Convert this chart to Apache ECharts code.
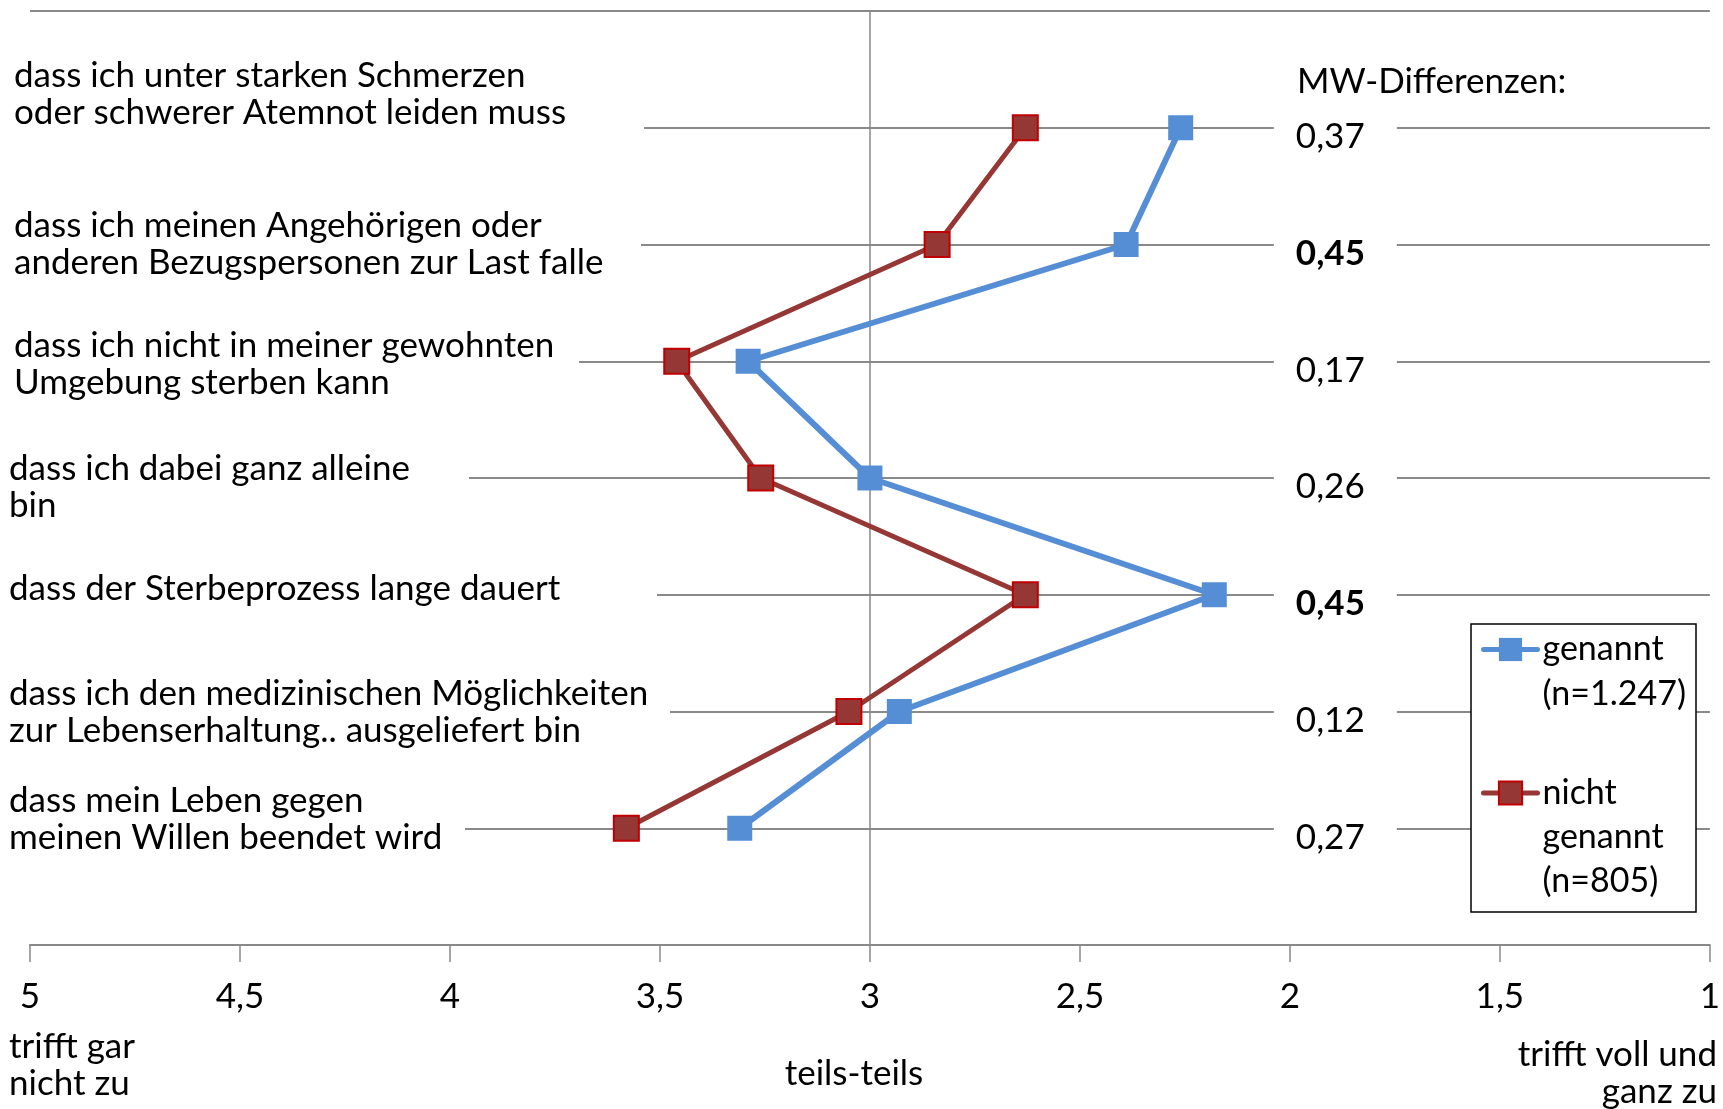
<!DOCTYPE html>
<html>
<head>
<meta charset="utf-8">
<script src="https://cdn.jsdelivr.net/npm/echarts@6/dist/echarts.min.js"></script>
<style>
  html, body { margin: 0; padding: 0; background: #fff; }
  #chart { width: 1723px; height: 1109px; }
</style>
</head>
<body>
<div id="chart"></div>
<script>
// Aussagen (von oben nach unten)
var categories = [
  'dass ich unter starken Schmerzen\noder schwerer Atemnot leiden muss',
  'dass ich meinen Angehörigen oder\nanderen Bezugspersonen zur Last falle',
  'dass ich nicht in meiner gewohnten\nUmgebung sterben kann',
  'dass ich dabei ganz alleine\nbin',
  'dass der Sterbeprozess lange dauert',
  'dass ich den medizinischen Möglichkeiten\nzur Lebenserhaltung.. ausgeliefert bin',
  'dass mein Leben gegen\nmeinen Willen beendet wird'
];
// Mittelwerte (1 = trifft voll und ganz zu, 5 = trifft gar nicht zu)
var genannt = [2.26, 2.39, 3.29, 3.00, 2.18, 2.93, 3.31];
var nichtGenannt = [2.63, 2.84, 3.46, 3.26, 2.63, 3.05, 3.58];
// MW-Differenzen
var differenzen = ['0,37', '0,45', '0,17', '0,26', '0,45', '0,12', '0,27'];
var diffBold = [false, true, false, false, true, false, false];

var FONT = 'Lato';
var FS = 35;
var LH = 37;

// Breite der weißen Textkästen (bis wo die Linie beginnt) und vertikaler Versatz
var boxWidth = [630, 627, 565, 460, 648, 661, 456];
var padLeft = [10, 10, 10, 5, 5, 5, 5];
var shift = [-34, 0, 3, 9, -6, 1, -9];

var rich = {};
for (var i = 0; i < categories.length; i++) {
  rich['t' + i] = { fontFamily: FONT, fontSize: FS, lineHeight: LH, height: LH, width: boxWidth[i], padding: [0, 0, 0, padLeft[i]], color: '#000' };
  rich['s' + i] = { fontSize: 1, lineHeight: Math.abs(shift[i]) * 2 || 1, height: Math.abs(shift[i]) * 2 || 1, width: boxWidth[i] };
}

function leftLabel(value) {
  var i = value - 1;
  if (i < 0 || i >= categories.length) return '';
  var lines = categories[i].split('\n').map(function (l) { return '{t' + i + '|' + l + '}'; });
  if (shift[i] > 0) lines.unshift('{s' + i + '| }');
  if (shift[i] < 0) lines.push('{s' + i + '| }');
  return lines.join('\n');
}

function rightLabel(value) {
  var i = value - 1;
  if (i < 0 || i >= differenzen.length) return '';
  return '{' + (diffBold[i] ? 'b' : 'n') + '|' + differenzen[i] + '}';
}

var myChart = echarts.init(document.getElementById('chart'));
var option = {
  animation: false,
  backgroundColor: '#fff',
  textStyle: { fontFamily: FONT },
  grid: { left: 30, right: 11, top: 11, bottom: 164 },
  xAxis: {
    type: 'value',
    min: 1,
    max: 5,
    interval: 0.5,
    inverse: true,
    axisLine: { show: true, onZero: false, lineStyle: { color: '#898989', width: 2 } },
    axisTick: { show: true, length: 17, lineStyle: { color: '#898989', width: 1.5 } },
    splitLine: { show: false },
    axisLabel: {
      margin: 34,
      color: '#000',
      fontFamily: FONT,
      fontSize: FS,
      formatter: function (v) { return String(v).replace('.', ','); }
    }
  },
  yAxis: [
    {
      type: 'value',
      min: 0,
      max: 8,
      interval: 1,
      inverse: true,
      axisLine: { show: false },
      axisTick: { show: false },
      splitLine: { show: true, lineStyle: { color: '#898989', width: 2 } },
      axisLabel: {
        margin: 26,
        align: 'left',
        showMinLabel: false,
        showMaxLabel: false,
        backgroundColor: '#fff',
        formatter: leftLabel,
        rich: rich
      }
    },
    {
      type: 'value',
      min: 0,
      max: 8,
      interval: 1,
      inverse: true,
      position: 'right',
      offset: -436,
      axisLine: { show: false },
      axisTick: { show: false },
      splitLine: { show: false },
      axisLabel: {
        margin: 0,
        align: 'left',
        showMinLabel: false,
        showMaxLabel: false,
        backgroundColor: '#fff',
        padding: [18, 0, 0, 22],
        formatter: rightLabel,
        rich: {
          n: { fontFamily: FONT, fontSize: FS, lineHeight: LH, width: 101, color: '#000' },
          b: { fontFamily: FONT, fontSize: FS, lineHeight: LH, width: 101, fontWeight: 'bold', color: '#000' }
        }
      }
    }
  ],
  legend: [
    {
      data: ['genannt'],
      orient: 'vertical',
      left: 1481,
      top: 582,
      padding: 0,
      itemWidth: 54,
      itemHeight: 29,
      z: 6,
      lineStyle: { width: 5, cap: 'round' },
      formatter: function () { return '\ngenannt\n(n=1.247)'; },
      textStyle: { fontFamily: FONT, fontSize: 34, lineHeight: 45, color: '#000' }
    },
    {
      data: ['nicht genannt'],
      orient: 'vertical',
      left: 1481,
      top: 683,
      padding: 0,
      itemWidth: 54,
      itemHeight: 29,
      z: 6,
      lineStyle: { width: 5, cap: 'round' },
      formatter: function () { return '\n\nnicht\ngenannt\n(n=805)'; },
      textStyle: { fontFamily: FONT, fontSize: 34, lineHeight: 44, color: '#000' }
    }
  ],
  graphic: [
    {
      type: 'rect',
      z: 5,
      shape: { x: 1471, y: 624, width: 225, height: 288 },
      style: { fill: '#fff', stroke: '#000', lineWidth: 1.5 }
    },
    {
      type: 'text', z: 5, x: 1297, y: 82,
      style: { text: 'MW-Differenzen:', font: FS + 'px ' + FONT, fill: '#000', textAlign: 'left', textVerticalAlign: 'middle' }
    },
    {
      type: 'text', z: 5, x: 9, y: 1065,
      style: { text: 'trifft gar\nnicht zu', font: FS + 'px ' + FONT, lineHeight: LH, fill: '#000', textAlign: 'left', textVerticalAlign: 'middle' }
    },
    {
      type: 'text', z: 5, x: 854, y: 1074,
      style: { text: 'teils-teils', font: FS + 'px ' + FONT, fill: '#000', textAlign: 'center', textVerticalAlign: 'middle' }
    },
    {
      type: 'text', z: 5, x: 1717, y: 1073,
      style: { text: 'trifft voll und\nganz zu', font: FS + 'px ' + FONT, lineHeight: LH, fill: '#000', textAlign: 'right', textVerticalAlign: 'middle' }
    }
  ],
  series: [
    {
      name: 'genannt',
      type: 'line',
      data: genannt.map(function (v, i) { return [v, i + 1]; }),
      symbol: 'rect',
      symbolSize: 25,
      lineStyle: { color: '#558ED5', width: 6 },
      itemStyle: { color: '#558ED5' },
      markLine: {
        silent: true,
        z: 1,
        symbol: 'none',
        label: { show: false },
        lineStyle: { color: '#898989', width: 1.5, type: 'solid' },
        data: [{ xAxis: 3 }]
      }
    },
    {
      name: 'nicht genannt',
      type: 'line',
      data: nichtGenannt.map(function (v, i) { return [v, i + 1]; }),
      symbol: 'rect',
      symbolSize: 25,
      lineStyle: { color: '#953735', width: 5 },
      itemStyle: { color: '#953735', borderColor: '#C00000', borderWidth: 2 }
    }
  ]
};
option && myChart.setOption(option);
</script>
</body>
</html>
